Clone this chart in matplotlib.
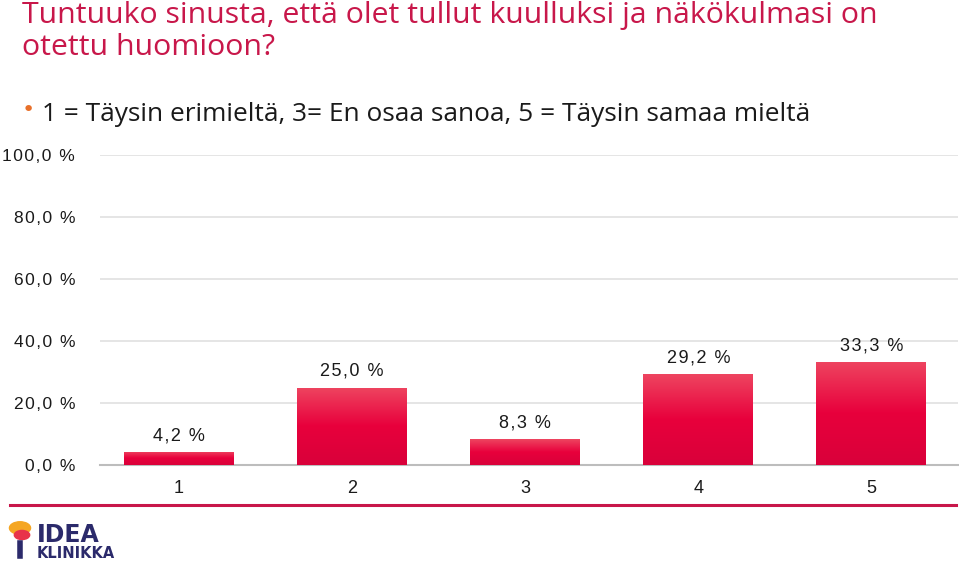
import numpy as np
import matplotlib.pyplot as plt
from matplotlib.colors import LinearSegmentedColormap
from matplotlib.lines import Line2D

# Data
categories = ['1', '2', '3', '4', '5']
values = [4.2, 25.0, 8.3, 29.2, 33.3]
labels = ['4,2 %', '25,0 %', '8,3 %', '29,2 %', '33,3 %']
yticks = [0, 20, 40, 60, 80, 100]
ytick_labels = ['0,0 %', '20,0 %', '40,0 %', '60,0 %', '80,0 %', '100,0 %']

title = 'Tuntuuko sinusta, että olet tullut kuulluksi ja näkökulmasi on\notettu huomioon?'
subtitle = '1 = Täysin erimieltä, 3= En osaa sanoa, 5 = Täysin samaa mieltä'

crimson = '#c8174a'
num_font = ['Liberation Sans', 'DejaVu Sans']


def spaced(s):
    # the original labels have loose letter spacing
    return '\u200a'.join(s)


fig = plt.figure(figsize=(9.59, 5.68), dpi=100)
ax = fig.add_axes([100 / 959, 103 / 568, 858 / 959, 310 / 568])

x = np.arange(len(categories))
bars = ax.bar(x, values, width=0.635, color='none', edgecolor='none', zorder=3)

# vertical gradient for each bar
grad = LinearSegmentedColormap.from_list('g', ['#d9003a', '#e8003c', '#ee4560'])
gradient = np.linspace(0, 1, 256).reshape(-1, 1)
for b in bars:
    bx, by = b.get_x(), b.get_y()
    w, h = b.get_width(), b.get_height()
    im = ax.imshow(gradient, cmap=grad, aspect='auto', origin='lower',
                   extent=[bx, bx + w, by, by + h], zorder=3)
    im.set_clip_path(b)

ax.set_xlim(-0.455, len(categories) - 0.5)
ax.set_ylim(0, 100)

for xi, v, lab in zip(x, values, labels):
    ax.text(xi, v + 2.5, spaced(lab), ha='center', va='bottom', fontsize=13,
            family=num_font, color='#1a1a1a')

ax.set_yticks(yticks)
ax.set_yticklabels([spaced(t) for t in ytick_labels], fontsize=12.5,
                   family=num_font, color='#1a1a1a')
ax.set_xticks(x)
ax.set_xticklabels(categories, fontsize=13, family=num_font, color='#1a1a1a')
ax.tick_params(length=0)
ax.tick_params(axis='y', pad=18)
ax.tick_params(axis='x', pad=11)

ax.grid(axis='y', color='#e0e0e0', linewidth=1.2, zorder=0)
ax.set_axisbelow(True)
for s in ['top', 'right', 'left']:
    ax.spines[s].set_visible(False)
ax.spines['bottom'].set_color('#bdbdbd')
ax.spines['bottom'].set_linewidth(1.5)

# titles
fig.text(22 / 959, 1 - 1 / 568, title, ha='left', va='top', fontsize=21.8,
         family='Open Sans', color=crimson, linespacing=1.12)
fig.text(28 / 959, 1 - 110 / 568, '\u2022', ha='center', va='center', fontsize=16,
         color='#e8702a')
fig.text(42 / 959, 1 - 114 / 568, subtitle, ha='left', va='center', fontsize=18.9,
         family='Open Sans', color='#1a1a1a')

# bottom rule
fig.add_artist(Line2D([10 / 959, 956 / 959], [1 - 505 / 568] * 2, color=crimson,
                      linewidth=2.2, transform=fig.transFigure))

# logo
fig.text(37 / 959, 1 - 535 / 568, 'IDEA', ha='left', va='center', fontsize=17,
         fontweight='bold', family='DejaVu Sans', color='#2b2a6b')
fig.text(37 / 959, 1 - 553 / 568, 'KLINIKKA', ha='left', va='center', fontsize=10.5,
         fontweight='bold', family='DejaVu Sans', color='#2b2a6b')
fig.add_artist(plt.Circle((20 / 959, 1 - 528 / 568), 0.011, color='#f5a623',
                          transform=fig.transFigure))
fig.add_artist(plt.Circle((22 / 959, 1 - 535 / 568), 0.008, color='#e8334a',
                          transform=fig.transFigure))
fig.add_artist(Line2D([20 / 959, 20 / 959], [1 - 543 / 568, 1 - 556 / 568],
                      color='#2b2a6b', linewidth=4, transform=fig.transFigure))

fig.savefig('out.png', dpi=100)
